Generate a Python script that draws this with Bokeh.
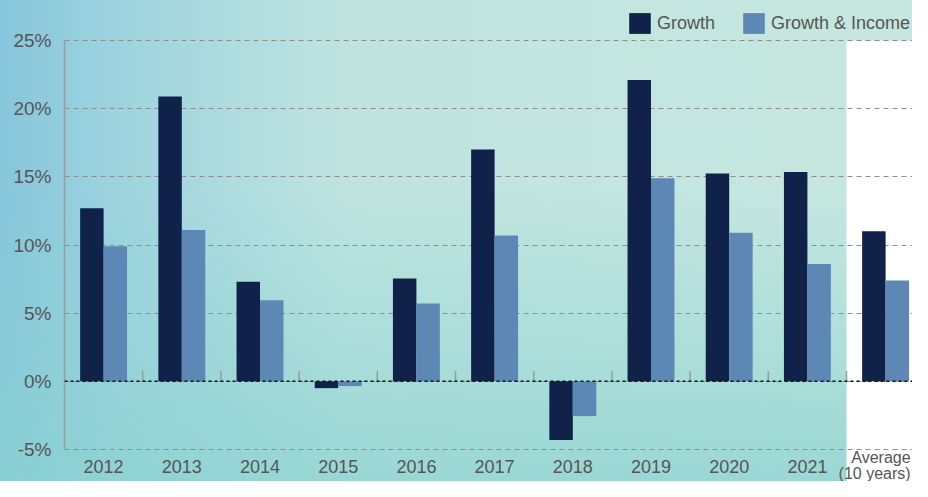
from bokeh.plotting import figure
from bokeh.models import (FixedTicker, PrintfTickFormatter, Span, BoxAnnotation,
                          Legend, LegendItem, ColumnDataSource)
from bokeh.core.properties import value
from bokeh.transform import dodge
from bokeh.embed import file_html
from bokeh.resources import INLINE

# ---- data ----
categories = ["2012", "2013", "2014", "2015", "2016", "2017", "2018",
              "2019", "2020", "2021", "Average"]
growth = [12.7, 20.9, 7.3, -0.5, 7.55, 17.0, -4.3, 22.1, 15.25, 15.35, 11.0]
growth_income = [9.9, 11.1, 5.95, -0.35, 5.7, 10.7, -2.55, 14.9, 10.9, 8.6, 7.4]
y_ticks = [-5, 0, 5, 10, 15, 20, 25]
avg_lines = ["Average", "(10 years)"]
series_names = ["Growth", "Growth & Income"]

FONT = "Liberation Sans"
TXT = "#555555"
DARK = "#10224a"
LIGHT = "#5d88b5"

idx = list(range(len(categories)))
bounds = [i + 0.5 for i in idx]
y_lo, y_hi = y_ticks[0], y_ticks[-1]
px_per_unit = 409 / (y_hi - y_lo)          # plot height of the value band
y_min = y_lo - 32 / px_per_unit            # room for category labels
y_max = y_hi + 40 / px_per_unit            # room for the legend

p = figure(width=912, height=481, x_range=(-0.5, 10.344), y_range=(y_min, y_max),
           output_backend="svg", toolbar_location=None,
           min_border_left=64, min_border_right=0, min_border_top=0,
           min_border_bottom=0)
p.outline_line_color = None
p.border_fill_alpha = 0
p.background_fill_alpha = 0
# watercolour-like backdrop (decoration)
p.styles = {
    "background": (
        "linear-gradient(180deg, rgba(140,212,208,0) 0%, rgba(140,212,208,0) 40%, "
        "rgba(138,210,208,0.72) 100%), "
        "linear-gradient(90deg, #86c6dc 0%, #9fd4de 14%, #bfe4e0 38%, #c6e7df 100%)"
    )
}
# white panel behind the average column
p.add_layout(BoxAnnotation(left=idx[-1] - 0.5, top=y_hi, fill_color="white",
                           fill_alpha=1, line_color=None, level="image"))

src = ColumnDataSource(dict(x=idx, g=growth, gi=growth_income))
r1 = p.vbar(x=dodge("x", -0.15, range=p.x_range), top="g", width=0.3, source=src,
            fill_color=DARK, line_color=None)
r2 = p.vbar(x=dodge("x", 0.15, range=p.x_range), top="gi", width=0.3, source=src,
            fill_color=LIGHT, line_color=None)

# grid
p.xgrid.visible = False
p.ygrid.ticker = FixedTicker(ticks=y_ticks)
p.ygrid.grid_line_color = "#8e8e8e"
p.ygrid.grid_line_dash = "5 4"
p.ygrid.grid_line_width = 1

# zero line and category ticks
p.add_layout(Span(location=0, dimension="width", line_color="#111111",
                  line_dash="3 3", line_width=1.5))
p.segment(x0=bounds, y0=[0] * len(bounds), x1=bounds, y1=[0.75] * len(bounds),
          line_color="#999999", line_width=1.5)

# y axis
p.yaxis.ticker = FixedTicker(ticks=y_ticks)
p.yaxis.bounds = (y_lo, y_hi)
p.yaxis.formatter = PrintfTickFormatter(format="%d%%")
p.yaxis.major_tick_line_color = None
p.yaxis.minor_tick_line_color = None
p.yaxis.axis_line_color = "#9b9b9b"
p.yaxis.axis_line_width = 1.5
p.yaxis.major_label_standoff = 7
p.yaxis.major_label_text_font = FONT
p.yaxis.major_label_text_font_size = "19px"
p.yaxis.major_label_text_color = TXT

# category labels (drawn below the value band)
p.xaxis.visible = False
lab_y = y_lo - 17 / px_per_unit
p.text(x=idx[:-1], y=[lab_y] * (len(idx) - 1), text=categories[:-1],
       text_align="center", text_baseline="middle", text_font=value(FONT),
       text_font_size="18px", text_color=TXT)
avg_y = [y_lo - 8 / px_per_unit, y_lo - 24 / px_per_unit]
p.text(x=[idx[-1]] * 2, y=avg_y, text=avg_lines, x_offset=25,
       text_align="right", text_baseline="middle", text_font=value(FONT),
       text_font_size="16px", text_color=TXT)

legend = Legend(items=[LegendItem(label=series_names[0], renderers=[r1]),
                       LegendItem(label=series_names[1], renderers=[r2])],
                location=(562, 445), orientation="horizontal",
                glyph_width=27, glyph_height=26, label_standoff=4, spacing=25,
                padding=0, margin=0, background_fill_alpha=0, border_line_alpha=0,
                label_text_font=FONT, label_text_font_size="18px",
                label_text_color=TXT)
p.add_layout(legend)

open("out.html", "w").write(file_html(p, INLINE))
